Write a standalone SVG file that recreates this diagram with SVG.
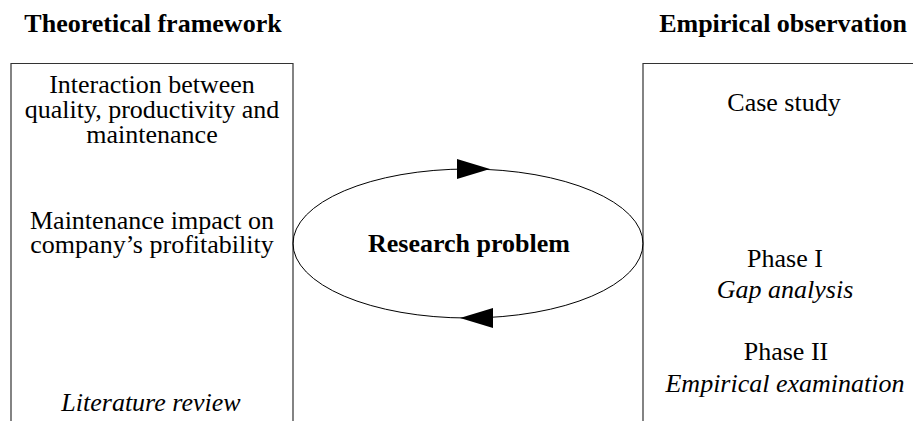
<svg xmlns="http://www.w3.org/2000/svg" width="913" height="421" viewBox="0 0 913 421">
<style>
text{font-family:'Liberation Serif',Tinos,'DejaVu Serif',serif;font-size:26px;fill:#000;text-anchor:middle}
.b{font-weight:bold}
.i{font-style:italic}
.box{fill:none;stroke:#333;stroke-width:1.2}
.ell{fill:none;stroke:#000;stroke-width:1}
.ah{fill:#000}
</style>
<rect width="913" height="421" fill="#fff"/>
<text class="b" x="153" y="32">Theoretical framework</text>
<text class="b" x="783" y="32">Empirical observation</text>
<g id="theory">
<path class="box" d="M11,425 V63.5 H293 V425"/>
<text x="152" y="93">Interaction between<tspan x="152" dy="25">quality, productivity and</tspan><tspan x="152" dy="25">maintenance</tspan></text>
<text x="152" y="229">Maintenance impact on<tspan x="152" dy="24">company’s profitability</tspan></text>
<text class="i" x="151" y="411">Literature review</text>
</g>
<g id="empirical">
<path class="box" d="M643,425 V63.5 H930"/>
<text x="784" y="111">Case study</text>
<text x="785" y="267">Phase I</text>
<text class="i" x="785" y="298">Gap analysis</text>
<text x="786" y="360">Phase II</text>
<text class="i" x="785" y="392">Empirical examination</text>
</g>
<g id="problem">
<ellipse class="ell" cx="468" cy="243.5" rx="175" ry="74.5"/>
<text class="b" x="469" y="252">Research problem</text>
</g>
<g id="connectors">
<polygon class="ah" points="490,169 457,159 457,179"/>
<polygon class="ah" points="460,318 493,308 493,328"/>
</g>
</svg>
